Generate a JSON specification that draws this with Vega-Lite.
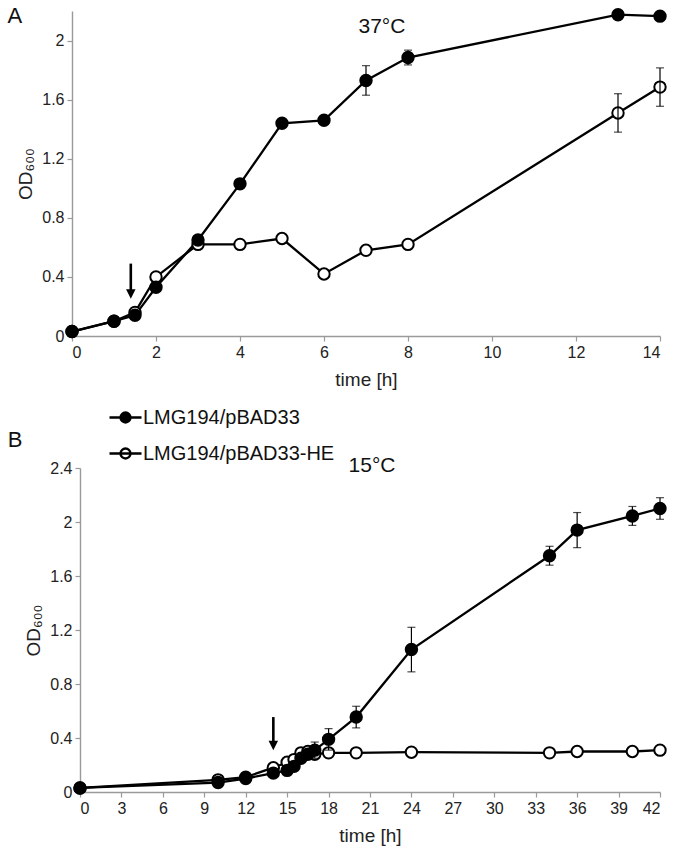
{
  "$schema": "https://vega.github.io/schema/vega-lite/v6.json",
  "padding": {"left": 7, "top": 4, "right": 5, "bottom": 5},
  "spacing": 11,
  "background": "white",
  "config": {
    "view": {"stroke": null},
    "font": "Liberation Sans Narrow, Liberation Sans, Arial",
    "axis": {
      "grid": false,
      "domainColor": "#9a9a9a",
      "domainWidth": 1.4,
      "tickColor": "#9a9a9a",
      "tickWidth": 1.2,
      "tickSize": 5,
      "labelFont": "Liberation Sans Narrow, Liberation Sans, Arial",
      "labelFontSize": 16,
      "labelColor": "#222222",
      "labelPadding": 3,
      "titleFont": "Liberation Sans Narrow, Liberation Sans, Arial",
      "titleFontSize": 19,
      "titleFontWeight": "normal",
      "titleColor": "#222222"
    }
  },
  "datasets": {
    "a": [
      {"series": "LMG194/pBAD33-HE", "t": 0, "od": 0.03},
      {"series": "LMG194/pBAD33-HE", "t": 1, "od": 0.1},
      {"series": "LMG194/pBAD33-HE", "t": 1.5, "od": 0.16},
      {"series": "LMG194/pBAD33-HE", "t": 2, "od": 0.4},
      {"series": "LMG194/pBAD33-HE", "t": 3, "od": 0.62},
      {"series": "LMG194/pBAD33-HE", "t": 4, "od": 0.62},
      {"series": "LMG194/pBAD33-HE", "t": 5, "od": 0.66},
      {"series": "LMG194/pBAD33-HE", "t": 6, "od": 0.42},
      {"series": "LMG194/pBAD33-HE", "t": 7, "od": 0.58},
      {"series": "LMG194/pBAD33-HE", "t": 8, "od": 0.62},
      {"series": "LMG194/pBAD33-HE", "t": 13, "od": 1.51, "lo": 1.38, "hi": 1.64},
      {"series": "LMG194/pBAD33-HE", "t": 14, "od": 1.685, "lo": 1.555, "hi": 1.815},
      {"series": "LMG194/pBAD33", "t": 0, "od": 0.03},
      {"series": "LMG194/pBAD33", "t": 1, "od": 0.1},
      {"series": "LMG194/pBAD33", "t": 1.5, "od": 0.14},
      {"series": "LMG194/pBAD33", "t": 2, "od": 0.33},
      {"series": "LMG194/pBAD33", "t": 3, "od": 0.65},
      {"series": "LMG194/pBAD33", "t": 4, "od": 1.03},
      {"series": "LMG194/pBAD33", "t": 5, "od": 1.44},
      {"series": "LMG194/pBAD33", "t": 6, "od": 1.46},
      {"series": "LMG194/pBAD33", "t": 7, "od": 1.73, "lo": 1.63, "hi": 1.83},
      {"series": "LMG194/pBAD33", "t": 8, "od": 1.885, "lo": 1.835, "hi": 1.935},
      {"series": "LMG194/pBAD33", "t": 13, "od": 2.175},
      {"series": "LMG194/pBAD33", "t": 14, "od": 2.165}
    ],
    "b": [
      {"series": "LMG194/pBAD33-HE", "t": 0, "od": 0.03},
      {"series": "LMG194/pBAD33-HE", "t": 10, "od": 0.09},
      {"series": "LMG194/pBAD33-HE", "t": 12, "od": 0.11},
      {"series": "LMG194/pBAD33-HE", "t": 14, "od": 0.18},
      {"series": "LMG194/pBAD33-HE", "t": 15, "od": 0.22},
      {"series": "LMG194/pBAD33-HE", "t": 15.5, "od": 0.24},
      {"series": "LMG194/pBAD33-HE", "t": 16, "od": 0.29},
      {"series": "LMG194/pBAD33-HE", "t": 16.5, "od": 0.3},
      {"series": "LMG194/pBAD33-HE", "t": 17, "od": 0.28},
      {"series": "LMG194/pBAD33-HE", "t": 18, "od": 0.29},
      {"series": "LMG194/pBAD33-HE", "t": 20, "od": 0.29},
      {"series": "LMG194/pBAD33-HE", "t": 24, "od": 0.295},
      {"series": "LMG194/pBAD33-HE", "t": 34, "od": 0.29},
      {"series": "LMG194/pBAD33-HE", "t": 36, "od": 0.3},
      {"series": "LMG194/pBAD33-HE", "t": 40, "od": 0.3},
      {"series": "LMG194/pBAD33-HE", "t": 42, "od": 0.31},
      {"series": "LMG194/pBAD33", "t": 0, "od": 0.03},
      {"series": "LMG194/pBAD33", "t": 10, "od": 0.07},
      {"series": "LMG194/pBAD33", "t": 12, "od": 0.1},
      {"series": "LMG194/pBAD33", "t": 14, "od": 0.14},
      {"series": "LMG194/pBAD33", "t": 15, "od": 0.16},
      {"series": "LMG194/pBAD33", "t": 15.5, "od": 0.19},
      {"series": "LMG194/pBAD33", "t": 16, "od": 0.25},
      {"series": "LMG194/pBAD33", "t": 16.5, "od": 0.28},
      {"series": "LMG194/pBAD33", "t": 17, "od": 0.31, "lo": 0.25, "hi": 0.37},
      {"series": "LMG194/pBAD33", "t": 18, "od": 0.39, "lo": 0.31, "hi": 0.47},
      {"series": "LMG194/pBAD33", "t": 20, "od": 0.555, "lo": 0.475, "hi": 0.635},
      {"series": "LMG194/pBAD33", "t": 24, "od": 1.055, "lo": 0.89, "hi": 1.22},
      {"series": "LMG194/pBAD33", "t": 34, "od": 1.75, "lo": 1.68, "hi": 1.82},
      {"series": "LMG194/pBAD33", "t": 36, "od": 1.94, "lo": 1.81, "hi": 2.07},
      {"series": "LMG194/pBAD33", "t": 40, "od": 2.045, "lo": 1.975, "hi": 2.115},
      {"series": "LMG194/pBAD33", "t": 42, "od": 2.1, "lo": 2.02, "hi": 2.18}
    ],
    "arrowA": [{"t": 1.4, "top": 0.49, "head": 0.285}],
    "arrowB": [{"t": 14, "top": 0.555, "head": 0.345}],
    "labelsA": [
      {"t": -1.36, "od": 2.166, "label": "A", "size": 22},
      {"t": 7.38, "od": 2.09, "label": "37°C", "size": 21}
    ],
    "labelsB": [
      {"t": -4.7, "od": 2.607, "label": "B", "size": 22},
      {"t": 21.15, "od": 2.415, "label": "15°C", "size": 21}
    ]
  },
  "resolve": {"scale": {"fill": "independent"}, "legend": {"fill": "independent"}},
  "vconcat": [
    {
      "width": 588,
      "height": 325,
      "layer": [
        {
          "data": {"name": "a"},
          "mark": {"type": "line", "color": "black", "strokeWidth": 2.3},
          "encoding": {
            "x": {"field": "t", "type": "quantitative", "title": "time [h]", "scale": {"domain": [0, 14], "nice": false}, "axis": {"values": [0, 2, 4, 6, 8, 10, 12, 14], "titlePadding": 10}},
            "y": {"field": "od", "type": "quantitative", "title": "OD₆₀₀", "scale": {"domain": [0, 2.2], "nice": false}, "axis": {"values": [0, 0.4, 0.8, 1.2, 1.6, 2], "format": "~g", "titlePadding": 6}},
            "detail": {"field": "series"}
          }
        },
        {
          "data": {"name": "a"},
          "mark": {"type": "point", "shape": "circle", "filled": true, "size": 130, "stroke": "black", "strokeWidth": 2, "opacity": 1},
          "encoding": {
            "x": {"field": "t", "type": "quantitative", "title": "time [h]"},
            "y": {"field": "od", "type": "quantitative", "title": "OD₆₀₀"},
            "fill": {"field": "series", "type": "nominal", "scale": {"domain": ["LMG194/pBAD33", "LMG194/pBAD33-HE"], "range": ["black", "white"]}, "legend": null}
          }
        },
        {
          "data": {"name": "a"},
          "transform": [{"filter": "isValid(datum.lo)"}],
          "mark": {"type": "errorbar", "color": "black", "thickness": 1.2, "ticks": {"size": 8}},
          "encoding": {
            "x": {"field": "t", "type": "quantitative", "title": "time [h]"},
            "y": {"field": "lo", "type": "quantitative", "title": "OD₆₀₀"},
            "y2": {"field": "hi"}
          }
        },
        {
          "data": {"name": "arrowA"},
          "mark": {"type": "rule", "color": "black", "strokeWidth": 2.6},
          "encoding": {
            "x": {"field": "t", "type": "quantitative", "title": "time [h]"},
            "y": {"field": "top", "type": "quantitative", "title": "OD₆₀₀"},
            "y2": {"field": "head"}
          }
        },
        {
          "data": {"name": "arrowA"},
          "mark": {"type": "point", "shape": "M-1,-1L1,-1L0,1Z", "filled": true, "color": "black", "size": 90, "opacity": 1},
          "encoding": {
            "x": {"field": "t", "type": "quantitative", "title": "time [h]"},
            "y": {"field": "head", "type": "quantitative", "title": "OD₆₀₀"}
          }
        },
        {
          "data": {"name": "labelsA"},
          "mark": {"type": "text", "color": "#111111", "baseline": "middle", "align": "center", "font": "Liberation Sans Narrow, Liberation Sans, Arial"},
          "encoding": {
            "x": {"field": "t", "type": "quantitative", "title": "time [h]"},
            "y": {"field": "od", "type": "quantitative", "title": "OD₆₀₀"},
            "text": {"field": "label"},
            "size": {"field": "size", "type": "quantitative", "scale": null}
          }
        }
      ]
    },
    {
      "width": 588,
      "height": 324,
      "layer": [
        {
          "data": {"name": "b"},
          "mark": {"type": "line", "color": "black", "strokeWidth": 2.3},
          "encoding": {
            "x": {"field": "t", "type": "quantitative", "title": "time [h]", "scale": {"domain": [0, 42], "nice": false, "range": [8, 588]}, "axis": {"values": [0, 3, 6, 9, 12, 15, 18, 21, 24, 27, 30, 33, 36, 39, 42], "titlePadding": 10}},
            "y": {"field": "od", "type": "quantitative", "title": "OD₆₀₀", "scale": {"domain": [0, 2.4], "nice": false}, "axis": {"values": [0, 0.4, 0.8, 1.2, 1.6, 2, 2.4], "format": "~g", "titlePadding": 6, "offset": -8}},
            "detail": {"field": "series"}
          }
        },
        {
          "data": {"name": "b"},
          "mark": {"type": "point", "shape": "circle", "filled": true, "size": 130, "stroke": "black", "strokeWidth": 2, "opacity": 1},
          "encoding": {
            "x": {"field": "t", "type": "quantitative", "title": "time [h]"},
            "y": {"field": "od", "type": "quantitative", "title": "OD₆₀₀"},
            "fill": {
              "field": "series", "type": "nominal",
              "scale": {"domain": ["LMG194/pBAD33", "LMG194/pBAD33-HE"], "range": ["black", "white"]},
              "legend": {
                "orient": "none", "legendX": 36, "legendY": -68, "title": null,
                "symbolType": "M-1,0H1M0.31,0A0.31,0.31,0,1,1,-0.31,0A0.31,0.31,0,1,1,0.31,0Z",
                "symbolSize": 1024, "symbolStrokeColor": "black", "symbolStrokeWidth": 2.4,
                "symbolOpacity": 1,
                "labelFont": "Liberation Sans", "labelFontSize": 20, "labelColor": "#111111",
                "labelOffset": 0, "rowPadding": 8, "labelLimit": 400
              }
            }
          }
        },
        {
          "data": {"name": "b"},
          "transform": [{"filter": "isValid(datum.lo)"}],
          "mark": {"type": "errorbar", "color": "black", "thickness": 1.2, "ticks": {"size": 8}},
          "encoding": {
            "x": {"field": "t", "type": "quantitative", "title": "time [h]"},
            "y": {"field": "lo", "type": "quantitative", "title": "OD₆₀₀"},
            "y2": {"field": "hi"}
          }
        },
        {
          "data": {"name": "arrowB"},
          "mark": {"type": "rule", "color": "black", "strokeWidth": 2.6},
          "encoding": {
            "x": {"field": "t", "type": "quantitative", "title": "time [h]"},
            "y": {"field": "top", "type": "quantitative", "title": "OD₆₀₀"},
            "y2": {"field": "head"}
          }
        },
        {
          "data": {"name": "arrowB"},
          "mark": {"type": "point", "shape": "M-1,-1L1,-1L0,1Z", "filled": true, "color": "black", "size": 90, "opacity": 1},
          "encoding": {
            "x": {"field": "t", "type": "quantitative", "title": "time [h]"},
            "y": {"field": "head", "type": "quantitative", "title": "OD₆₀₀"}
          }
        },
        {
          "data": {"name": "labelsB"},
          "mark": {"type": "text", "color": "#111111", "baseline": "middle", "align": "center", "font": "Liberation Sans Narrow, Liberation Sans, Arial"},
          "encoding": {
            "x": {"field": "t", "type": "quantitative", "title": "time [h]"},
            "y": {"field": "od", "type": "quantitative", "title": "OD₆₀₀"},
            "text": {"field": "label"},
            "size": {"field": "size", "type": "quantitative", "scale": null}
          }
        }
      ]
    }
  ]
}
